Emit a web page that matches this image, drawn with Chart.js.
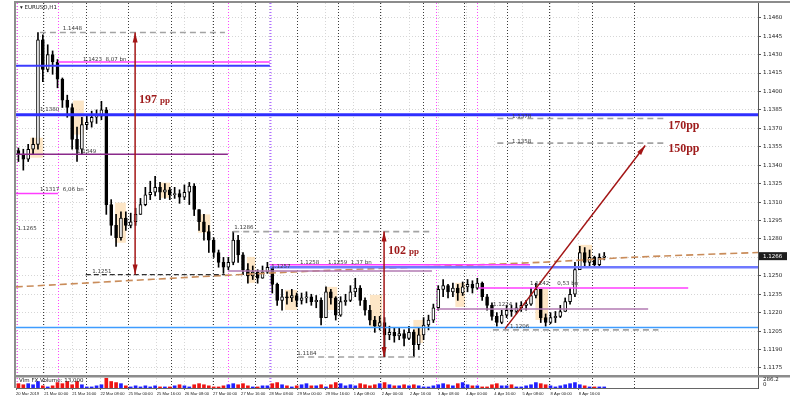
<!DOCTYPE html>
<html lang="en">
<head>
<meta charset="utf-8">
<title>EURUSD,H1</title>
<script src="https://cdn.jsdelivr.net/npm/chart.js@4.4.1/dist/chart.umd.min.js"></script>
<style>
    html, body { margin: 0; padding: 0; background: #ffffff; }
    .chartBox { position: relative; width: 798px; height: 400px; }
</style>
</head>
<body>
<div class="chartBox"><canvas id="graficoEurusd"></canvas></div>
<script>
// candles, one per hour
const firstOpen = 1.1352;
const closes = [
    1.1349, 1.1345, 1.1353, 1.1357, 1.1442, 1.1418, 1.1430, 1.1424, 1.1410, 1.1393,
    1.1387, 1.1361, 1.1353, 1.1373, 1.1375, 1.1379, 1.1380, 1.1385, 1.1308, 1.1291,
    1.1281, 1.1297, 1.1291, 1.1294, 1.1300, 1.1308, 1.1316, 1.1318, 1.1322, 1.1318,
    1.1320, 1.1316, 1.1317, 1.1314, 1.1318, 1.1323, 1.1304, 1.1294, 1.1286, 1.1279,
    1.1269, 1.1261, 1.1257, 1.1261, 1.1279, 1.1267, 1.1255, 1.1250, 1.1253, 1.1248,
    1.1253, 1.1257, 1.1243, 1.1230, 1.1233, 1.1232, 1.1234, 1.1230, 1.1232, 1.1233,
    1.1229, 1.1230, 1.1216, 1.1237, 1.1232, 1.1218, 1.1229, 1.1230, 1.1237, 1.1240,
    1.1230, 1.1222, 1.1214, 1.1209, 1.1212, 1.1202, 1.1204, 1.1201, 1.1203, 1.1199,
    1.1204, 1.1194, 1.1202, 1.1210, 1.1214, 1.1224, 1.1239, 1.1242, 1.1237, 1.1240,
    1.1236, 1.1241, 1.1243, 1.1240, 1.1244, 1.1233, 1.1226, 1.1217, 1.1212, 1.1218,
    1.1222, 1.1221, 1.1224, 1.1226, 1.1227, 1.1234, 1.1239, 1.1216, 1.1212, 1.1216,
    1.1217, 1.1221, 1.1229, 1.1235, 1.1255, 1.1269, 1.1261, 1.1265, 1.1259, 1.1265,
    1.1266
];
const highs = [
    1.1354, 1.1353, 1.1357, 1.1362, 1.1448, 1.1446, 1.1438, 1.1433, 1.1426, 1.1411,
    1.1397, 1.1390, 1.1371, 1.1379, 1.1381, 1.1384, 1.1385, 1.1392, 1.1387, 1.1312,
    1.1300, 1.1302, 1.1302, 1.1301, 1.1305, 1.1313, 1.1322, 1.1327, 1.1331, 1.1326,
    1.1325, 1.1322, 1.1322, 1.1320, 1.1324, 1.1326, 1.1325, 1.1304, 1.1300, 1.1291,
    1.1281, 1.1271, 1.1265, 1.1265, 1.1286, 1.1283, 1.1269, 1.1260, 1.1258, 1.1255,
    1.1258, 1.1261, 1.1258, 1.1244, 1.1239, 1.1237, 1.1239, 1.1236, 1.1236, 1.1237,
    1.1235, 1.1234, 1.1232, 1.1241, 1.1239, 1.1233, 1.1233, 1.1235, 1.1242, 1.1248,
    1.1242, 1.1232, 1.1226, 1.1217, 1.1217, 1.1216, 1.1209, 1.1208, 1.1208, 1.1206,
    1.1209, 1.1206, 1.1208, 1.1216, 1.1218, 1.1227, 1.1242, 1.1247, 1.1243, 1.1244,
    1.1243, 1.1245, 1.1247, 1.1246, 1.1248, 1.1245, 1.1235, 1.1228, 1.1220, 1.1222,
    1.1226, 1.1226, 1.1228, 1.1229, 1.1230, 1.1240, 1.1244, 1.1239, 1.1219, 1.1220,
    1.1221, 1.1226, 1.1232, 1.1240, 1.1261, 1.1274, 1.1273, 1.1271, 1.1266, 1.1268,
    1.1269
];
const lows = [
    1.1343, 1.1336, 1.1343, 1.1349, 1.1353, 1.1408, 1.1416, 1.1414, 1.1403, 1.1387,
    1.1379, 1.1353, 1.1343, 1.1349, 1.1369, 1.1371, 1.1374, 1.1377, 1.1300, 1.1283,
    1.1274, 1.1279, 1.1287, 1.1289, 1.1291, 1.1300, 1.1307, 1.1312, 1.1315, 1.1312,
    1.1313, 1.1312, 1.1313, 1.1309, 1.1312, 1.1308, 1.1299, 1.1287, 1.1279, 1.1269,
    1.1265, 1.1257, 1.1252, 1.1255, 1.1259, 1.1261, 1.1251, 1.1244, 1.1247, 1.1244,
    1.1248, 1.1252, 1.1236, 1.1226, 1.1222, 1.1227, 1.1229, 1.1225, 1.1227, 1.1228,
    1.1226, 1.1224, 1.1210, 1.1216, 1.1227, 1.1214, 1.1217, 1.1226, 1.1229, 1.1233,
    1.1226, 1.1218, 1.1210, 1.1204, 1.1206, 1.1184, 1.1198, 1.1196, 1.1198, 1.1193,
    1.1198, 1.1184, 1.1190, 1.1198, 1.1206, 1.1212, 1.1222, 1.1233, 1.1232, 1.1233,
    1.1230, 1.1234, 1.1237, 1.1236, 1.1239, 1.1230, 1.1222, 1.1214, 1.1209, 1.1211,
    1.1216, 1.1217, 1.1219, 1.1221, 1.1222, 1.1226, 1.1232, 1.1212, 1.1209, 1.1211,
    1.1212, 1.1216, 1.1221, 1.1227, 1.1233, 1.1255, 1.1257, 1.1258, 1.1257, 1.1258,
    1.1263
];
const volumes = [
    4, 3, 4, 3, 6, 2, 1, 2, 5, 4,
    6, 3, 6, 3, 1, 1, 2, 3, 9, 6,
    5, 4, 2, 1, 2, 1, 2, 1, 2, 1,
    1, 1, 2, 3, 2, 1, 3, 4, 3, 2,
    1, 1, 2, 3, 4, 3, 4, 2, 1, 1,
    2, 2, 4, 5, 3, 2, 1, 2, 3, 4,
    2, 2, 3, 1, 3, 5, 4, 2, 3, 2,
    4, 3, 2, 3, 4, 5, 3, 2, 2, 3,
    2, 3, 2, 1, 1, 2, 3, 4, 3, 2,
    4, 5, 3, 2, 2, 1, 1, 3, 4, 2,
    2, 3, 1, 1, 2, 3, 5, 4, 3, 2,
    1, 2, 3, 4, 5, 3, 2, 1, 1, 1,
    1
];

const timeLabels = [
    '20 Mar 2019', '21 Mar 00:00', '21 Mar 16:00', '22 Mar 08:00', '25 Mar 00:00',
    '25 Mar 16:00', '26 Mar 08:00', '27 Mar 00:00', '27 Mar 16:00', '28 Mar 08:00',
    '29 Mar 00:00', '29 Mar 16:00', '1 Apr 08:00', '2 Apr 00:00', '2 Apr 16:00',
    '3 Apr 08:00', '4 Apr 00:00', '4 Apr 16:00', '5 Apr 08:00', '8 Apr 00:00',
    '8 Apr 16:00'
];
const priceTicks = [
    1.1175, 1.1190, 1.1205, 1.1220, 1.1235, 1.1250, 1.1265, 1.1280, 1.1295, 1.1310,
    1.1325, 1.1340, 1.1355, 1.1370, 1.1385, 1.1400, 1.1415, 1.1430, 1.1445, 1.1460
];

// day separators and hand drawn verticals (in bars)
const daySeparators = [5.5, 14.3, 23.0, 31.8, 40.4, 49.0, 57.6, 66.0, 74.6, 83.4, 91.8, 100.6, 109.2, 118.0, 126.6];
const userVerticals = [0.2, 8.6, 43.4, 86.1, 94.5];
const weekVertical = 52.0;

// horizontal levels: price, from bar, to bar
const levels = [
    { p: 1.1448, from: 4.9, to: 42.8, kind: 'dash' },
    { p: 1.1421, from: 0, to: 52.0, kind: 'blue' },
    { p: 1.1424, from: 8.6, to: 52.0, kind: 'magenta' },
    { p: 1.1381, from: 0, to: 152, kind: 'blueThick' },
    { p: 1.1349, from: 0, to: 43.4, kind: 'purple' },
    { p: 1.1317, from: 0, to: 8.6, kind: 'magenta' },
    { p: 1.1251, from: 14.3, to: 42.8, kind: 'blackDash' },
    { p: 1.1286, from: 44.5, to: 85.2, kind: 'dash' },
    { p: 1.1254, from: 43.4, to: 85.2, kind: 'lilac' },
    { p: 1.1257, from: 52.0, to: 152, kind: 'blue2' },
    { p: 1.1259, from: 52.0, to: 105.3, kind: 'magenta' },
    { p: 1.1240, from: 94.7, to: 137.7, kind: 'magenta' },
    { p: 1.1223, from: 86.3, to: 129.5, kind: 'lilac' },
    { p: 1.1208, from: 0, to: 152, kind: 'lightBlue' },
    { p: 1.1206, from: 97.7, to: 131.6, kind: 'dash' },
    { p: 1.1184, from: 57.8, to: 82.8, kind: 'dash' },
    { p: 1.1378, from: 98.6, to: 132.6, kind: 'dash' },
    { p: 1.1358, from: 98.6, to: 132.6, kind: 'dash' }
];
const maPoints = [[0, 1.1241], [56.1, 1.1253], [107.4, 1.1261], [125.8, 1.1265], [152, 1.1269]];
const arrows = [
    { x0: 24.4, p0: 1.1251, x1: 24.4, p1: 1.1448, both: true },
    { x0: 75.4, p0: 1.1184, x1: 75.4, p1: 1.1286, both: true },
    { x0: 100.2, p0: 1.1207, x1: 128.9, p1: 1.1356, both: false }
];
// session boxes: from bar, to bar, top price, bottom price
const sessionBoxes = [
    [2.9, 5.5, 1.13624, 1.13461], [11.7, 13.9, 1.13926, 1.13649], [20.3, 22.5, 1.13095, 1.12769],
    [29.5, 31.6, 1.13258, 1.13135], [37.3, 39.8, 1.13000, 1.12850], [47.3, 49.0, 1.12654, 1.12443],
    [55.1, 57.6, 1.12386, 1.12222], [63.3, 65.8, 1.12410, 1.12222], [72.5, 75.0, 1.12345, 1.12084],
    [81.4, 83.4, 1.12141, 1.11954], [90.0, 92.0, 1.12443, 1.12247], [106.4, 109.0, 1.12402, 1.12141],
    [115.2, 118.0, 1.12752, 1.12614]
];
const notes = [
    { x: 9.6, p: 1.14504, t: '1.1448' },
    { x: 13.7, p: 1.14252, t: '1.1423  8,07 bn' },
    { x: 4.9, p: 1.13845, t: '1.1380' },
    { x: 12.5, p: 1.13502, t: '1.1349' },
    { x: 4.9, p: 1.13192, t: '1.1317  6,06 bn' },
    { x: 0.3, p: 1.12874, t: '1.1265' },
    { x: 15.6, p: 1.12524, t: '1.1251' },
    { x: 44.7, p: 1.12883, t: '1.1286' },
    { x: 52.3, p: 1.12565, t: '1.1257' },
    { x: 58.2, p: 1.12598, t: '1.1258' },
    { x: 63.9, p: 1.12598, t: '1.1259  1,37 bn' },
    { x: 57.6, p: 1.11856, t: '1.1184' },
    { x: 97.7, p: 1.12255, t: '1.1224' },
    { x: 101.2, p: 1.12076, t: '1.1206' },
    { x: 105.3, p: 1.12426, t: '1.1242' },
    { x: 110.9, p: 1.12426, t: '0,53 bn' },
    { x: 101.6, p: 1.13787, t: '1.1378' },
    { x: 101.6, p: 1.13583, t: '1.1358' },
    { x: 25.2, p: 1.13909, t: '197 pp', kind: 'pp' },
    { x: 76.2, p: 1.12679, t: '102 pp', kind: 'pp' },
    { x: 133.6, p: 1.13698, t: '170pp', kind: 'pp' },
    { x: 133.6, p: 1.13510, t: '150pp', kind: 'pp' }
];

const labelStep = 5.764;

const opens = closes.map((c, i) => i === 0 ? firstOpen : closes[i - 1]);
const candleX = closes.map((c, i) => i + 0.5);
const isUp = closes.map((c, i) => c >= opens[i]);

const lineKinds = {
    dash:      { color: '#a3a3a3', width: 1.6, dash: [6, 4] },
    blackDash: { color: '#303030', width: 1.3, dash: [5, 3] },
    blue:      { color: '#3c3cff', width: 2, dash: [] },
    blueThick: { color: '#2f2fff', width: 3, dash: [] },
    blue2:     { color: '#6f79ff', width: 2.5, dash: [] },
    lightBlue: { color: '#3d9cff', width: 1.5, dash: [] },
    magenta:   { color: '#ff3cff', width: 1.5, dash: [] },
    purple:    { color: '#8a2a8a', width: 1.5, dash: [] },
    lilac:     { color: '#b27ab2', width: 1.5, dash: [] }
};

const levelSets = levels.map(l => ({
    type: 'line',
    data: [{ x: l.from, y: l.p }, { x: l.to, y: l.p }],
    borderColor: lineKinds[l.kind].color,
    borderWidth: lineKinds[l.kind].width,
    borderDash: lineKinds[l.kind].dash,
    pointRadius: 0,
    yAxisID: 'y',
    order: 1
}));

const arrowSets = arrows.map(a => ({
    type: 'line',
    data: [{ x: a.x0, y: a.p0 }, { x: a.x1, y: a.p1 }],
    borderColor: '#a31515',
    borderWidth: 1.5,
    pointRadius: 0,
    yAxisID: 'y',
    order: 0
}));

const drawings = {
    id: 'drawings',
    beforeDatasetsDraw(chart) {
        const { ctx, chartArea: area, scales: { x, y } } = chart;
        ctx.save();
        ctx.beginPath();
        ctx.rect(area.left, area.top, area.right - area.left, area.bottom - area.top);
        ctx.clip();

        ctx.fillStyle = 'rgba(252, 214, 160, 0.6)';
        sessionBoxes.forEach(([x0, x1, p0, p1]) => {
            const px0 = x.getPixelForValue(x0);
            const py0 = y.getPixelForValue(p0);
            ctx.fillRect(px0, py0, x.getPixelForValue(x1) - px0, y.getPixelForValue(p1) - py0);
        });

        const vline = (v, color, width) => {
            const px = Math.round(x.getPixelForValue(v)) + 0.5;
            ctx.strokeStyle = color;
            ctx.lineWidth = width;
            ctx.beginPath();
            ctx.moveTo(px, area.top);
            ctx.lineTo(px, area.bottom);
            ctx.stroke();
        };
        ctx.setLineDash([1, 2]);
        daySeparators.forEach(v => vline(v, '#3a3a3a', 1));
        userVerticals.forEach(v => vline(v, '#ff44ff', 1));
        vline(weekVertical, '#b070ff', 2);
        ctx.restore();
    },
    afterDatasetsDraw(chart) {
        const { ctx, chartArea: area, scales: { x, y, yv } } = chart;
        ctx.save();

        // arrow heads
        ctx.fillStyle = '#a31515';
        const head = (tx, ty, fx, fy) => {
            const a = Math.atan2(ty - fy, tx - fx);
            const c = Math.cos(a), s = Math.sin(a);
            ctx.beginPath();
            ctx.moveTo(tx, ty);
            ctx.lineTo(tx - 10 * c + 2.5 * s, ty - 10 * s - 2.5 * c);
            ctx.lineTo(tx - 10 * c - 2.5 * s, ty - 10 * s + 2.5 * c);
            ctx.closePath();
            ctx.fill();
        };
        arrows.forEach(a => {
            const ax = x.getPixelForValue(a.x0), ay = y.getPixelForValue(a.p0);
            const bx = x.getPixelForValue(a.x1), by = y.getPixelForValue(a.p1);
            head(bx, by, ax, ay);
            if (a.both) head(ax, ay, bx, by);
        });

        // texts
        ctx.textBaseline = 'alphabetic';
        notes.forEach(n => {
            const px = x.getPixelForValue(n.x), py = y.getPixelForValue(n.p);
            if (n.kind === 'pp') {
                const m = n.t.match(/^(\d+)(\s?)(pp)$/);
                ctx.fillStyle = '#9e1b1b';
                ctx.font = 'bold 12px "Liberation Serif"';
                ctx.fillText(m[1], px, py);
                const w = ctx.measureText(m[1]).width;
                ctx.font = m[2] ? 'bold 9px "Liberation Serif"' : 'bold 12px "Liberation Serif"';
                ctx.fillText(m[3], px + w + (m[2] ? 3 : 0), py);
            } else {
                ctx.fillStyle = '#3a3a3a';
                ctx.font = '5.5px "DejaVu Sans"';
                ctx.fillText(n.t, px, py);
            }
        });

        // pane separator and frame
        ctx.fillStyle = '#8c8c8c';
        ctx.fillRect(area.left, y.bottom, area.right - area.left + 32, 2.5);
        ctx.fillRect(area.left - 1, area.top - 2, area.right - area.left + 33, 2);
        ctx.fillRect(area.left - 2, area.top - 2, 2, area.bottom - area.top + 2);

        // last price box
        const last = closes[closes.length - 1];
        const ly = y.getPixelForValue(last);
        ctx.fillStyle = '#1e1e1e';
        ctx.fillRect(area.right + 1, ly - 4, 28, 8);
        ctx.fillStyle = '#ffffff';
        ctx.font = '5.5px "DejaVu Sans"';
        ctx.textBaseline = 'middle';
        ctx.fillText(last.toFixed(4), area.right + 5, ly);

        // captions
        ctx.fillStyle = '#222222';
        ctx.fillText('\u25BE EURUSD,H1', area.left + 4, area.top + 5);
        ctx.fillText('Vlm FX Volume: 13,000', area.left + 3, yv.top + 6);
        ctx.fillText('286.2', area.right + 5, yv.top + 5);
        ctx.fillText('0', area.right + 5, yv.top + 10);
        ctx.restore();
    }
};

new Chart(document.getElementById('graficoEurusd'), {
    type: 'bar',
    data: {
        datasets: [
            ...arrowSets,
            ...levelSets,
            {
                type: 'line',
                data: maPoints.map(([px, p]) => ({ x: px, y: p })),
                borderColor: '#c98c5a',
                borderWidth: 1.6,
                borderDash: [7, 4],
                tension: 0.3,
                pointRadius: 0,
                yAxisID: 'y',
                order: 2
            },
            {
                data: candleX.map((cx, i) => ({ x: cx, y: [opens[i], closes[i]] })),
                backgroundColor: isUp.map(u => u ? '#ffffff' : '#000000'),
                borderColor: '#000000',
                borderWidth: 1,
                borderSkipped: false,
                barThickness: 3,
                minBarLength: 1,
                grouped: false,
                yAxisID: 'y',
                order: 5
            },
            {
                data: candleX.map((cx, i) => ({ x: cx, y: [lows[i], highs[i]] })),
                backgroundColor: '#000000',
                barThickness: 1,
                grouped: false,
                yAxisID: 'y',
                order: 6
            },
            {
                data: candleX.map((cx, i) => ({ x: cx, y: volumes[i] })),
                backgroundColor: isUp.map(u => u ? '#2020ff' : '#ee1414'),
                barThickness: 3,
                grouped: false,
                yAxisID: 'yv',
                order: 5
            }
        ]
    },
    options: {
        responsive: true,
        maintainAspectRatio: false,
        animation: false,
        events: [],
        layout: { padding: { left: 16, top: 3, right: 0, bottom: 0 } },
        plugins: {
            legend: { display: false },
            tooltip: { enabled: false }
        },
        scales: {
            x: {
                type: 'linear',
                min: 0,
                max: 152,
                offset: false,
                afterBuildTicks: axis => {
                    axis.ticks = timeLabels.map((t, k) => ({ value: k * labelStep }));
                },
                afterFit: axis => {
                    axis.height = 12;
                    axis.paddingLeft = 0;
                    axis.paddingRight = 0;
                },
                ticks: {
                    callback: (v, k) => timeLabels[k],
                    autoSkip: false,
                    maxRotation: 0,
                    minRotation: 0,
                    align: 'start',
                    padding: 1,
                    color: '#222222',
                    font: { size: 4.1, family: 'Liberation Sans' }
                },
                grid: { offset: false, color: '#d6d6d6', tickLength: 2, tickColor: '#666666' },
                border: { color: '#666666', dash: [1, 2] }
            },
            y: {
                type: 'linear',
                position: 'right',
                stack: 'pane',
                stackWeight: 372,
                min: 1.11693,
                max: 1.1472,
                afterBuildTicks: axis => {
                    axis.ticks = priceTicks.map(v => ({ value: v }));
                },
                afterFit: axis => {
                    axis.width = 40;
                    axis.paddingTop = 0;
                    axis.paddingBottom = 0;
                },
                ticks: {
                    callback: v => v.toFixed(4),
                    padding: 2,
                    color: '#222222',
                    font: { size: 5.5, family: 'DejaVu Sans' }
                },
                grid: { color: '#d6d6d6', tickLength: 3, tickColor: '#555555' },
                border: { color: '#555555', dash: [1, 2] }
            },
            yv: {
                type: 'linear',
                position: 'right',
                stack: 'pane',
                stackWeight: 13,
                min: 0,
                max: 12,
                afterFit: axis => {
                    axis.width = 40;
                    axis.paddingTop = 0;
                    axis.paddingBottom = 0;
                },
                ticks: { display: false },
                grid: { display: false },
                border: { color: '#555555' }
            }
        }
    },
    plugins: [drawings]
});
</script>
</body>
</html>
